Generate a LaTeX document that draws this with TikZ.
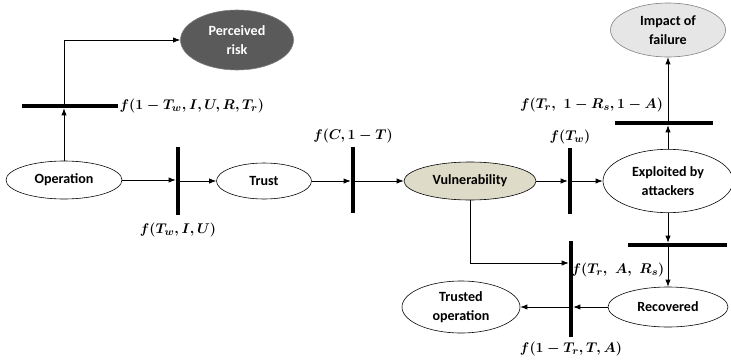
\documentclass[tikz,border=0pt]{standalone}
\usepackage{amsmath}
\usepackage[no-math]{fontspec}
\newfontfamily\nodefont{Carlito}
\usetikzlibrary{shapes.geometric,arrows.meta}
\definecolor{riskgray}{HTML}{5A5A5A}
\definecolor{impactgray}{HTML}{E6E6E6}
\definecolor{vulnbeige}{HTML}{DEDBC9}

\begin{document}
\begin{tikzpicture}[x=0.03cm, y=-0.03cm,
  state/.style={draw, ellipse, line width=0.5pt, inner sep=0pt, align=center,
    font=\nodefont\fontsize{12}{16}\selectfont\bfseries},
  vgate/.style={fill=black, inner sep=0pt, minimum width=0.12cm},
  hgate/.style={fill=black, inner sep=0pt, minimum height=0.12cm},
  flow/.style={-{Latex[length=6pt,width=4.5pt]}, line width=0.6pt},
  rate/.style={font=\fontsize{13}{15}\selectfont\boldmath, inner sep=1pt}]
\useasboundingbox (0,0) rectangle (731,360);

% states
\node[state, minimum width=3.48cm, minimum height=1.14cm] (op) at (64,180) {Operation};
\node[state, minimum width=2.85cm, minimum height=1.08cm] (tr) at (264,181) {Trust};
\node[state, fill=vulnbeige, minimum width=3.96cm, minimum height=1.14cm] (vu) at (470,181) {Vulnerability};
\node[state, minimum width=3.9cm, minimum height=1.9cm] (ex) at (668,181) {Exploited by\\attackers};
\node[state, fill=riskgray, draw=gray, text=white, minimum width=3.39cm, minimum height=1.8cm] (pr) at (237,40) {Perceived\\risk};
\node[state, fill=impactgray, draw=gray, minimum width=3.45cm, minimum height=1.62cm] (im) at (668,30) {Impact of\\failure};
\node[state, minimum width=3.6cm, minimum height=1.2cm] (rc) at (668,307) {Recovered};
\node[state, minimum width=3.54cm, minimum height=1.56cm] (to) at (461,307) {Trusted\\operation};

% gates
\node[hgate, minimum width=2.88cm] (g0) at (70,106) {};
\node[vgate, minimum height=2.04cm] (g1) at (178,181) {};
\node[vgate, minimum height=1.98cm] (g2) at (353,180) {};
\node[vgate, minimum height=1.98cm] (g3) at (570,181) {};
\node[vgate, minimum height=2.88cm] (g4) at (571,289) {};
\node[hgate, minimum width=2.94cm] (g5) at (664,123) {};
\node[hgate, minimum width=2.97cm] (g6) at (677,245) {};

% rates
\node[rate, anchor=west] (r0) at (g0.east) {$f(1-T_w,I,U,R,T_r)$};
\node[rate, anchor=north] (r1) at ([yshift=-5pt]g1.south) {$f(T_w,I,U)$};
\node[rate, anchor=south] (r2) at ([yshift=2pt]g2.north) {$f(C,1-T)$};
\node[rate, anchor=south] (r3) at ([yshift=2pt]g3.north) {$f(T_w)$};
\node[rate, anchor=south east] (r5) at ([xshift=-3pt,yshift=6pt]g5.north -| ex.north) {$f(T_r,\ 1-R_s, 1-A)$};
\node[rate, anchor=north east] (r6) at ([xshift=-2pt,yshift=-12pt]g6.south -| ex.south) {$f(T_r,\ A,\ R_s)$};
\node[rate, anchor=north] (r4) at ([yshift=-3pt]g4.south) {$f(1-T_r,T,A)$};

% flows
\draw[flow] (op.north) -- (op.north |- g0.south);
\draw[flow] (op.north |- g0.north) |- (pr.west);
\draw[flow] (op.east) -- (op.east -| g1.west);
\draw[flow] (tr.west -| g1.east) -- (tr.west);
\draw[flow] (tr.east) -- (tr.east -| g2.west);
\draw[flow] (vu.west -| g2.east) -- (vu.west);
\draw[flow] (vu.east) -- (vu.east -| g3.west);
\draw[flow] (ex.west -| g3.east) -- (ex.west);
\draw[flow] (ex.north) -- (ex.north |- g5.south);
\draw[flow] (ex.north |- g5.north) -- (im.south);
\draw[flow] (ex.south) -- (ex.south |- g6.north);
\draw[flow] (ex.south |- g6.south) -- (rc.north);
\draw[flow] (vu.south) |- ([yshift=0.78cm]g4.west);
\draw[flow] (rc.west) -- (rc.west -| g4.east);
\draw[flow] (rc.west -| g4.west) -- (to.east);
\end{tikzpicture}
\end{document}
